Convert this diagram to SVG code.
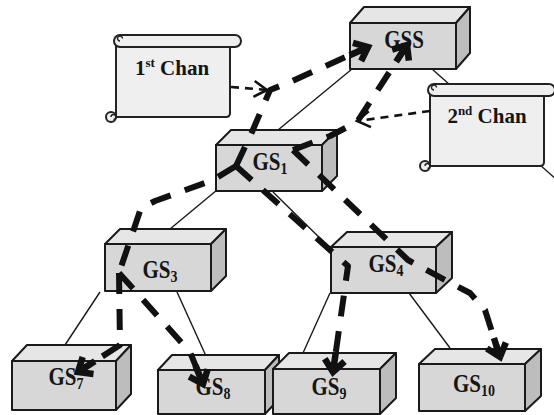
<svg xmlns="http://www.w3.org/2000/svg" width="554" height="415" viewBox="0 0 554 415">
  <style>
    .edge { stroke: #1a1a1a; stroke-width: 1.4; fill: none; }
    .route { stroke: #111; stroke-width: 6; fill: none; stroke-dasharray: 21 15; stroke-linejoin: round; }
    .ptr { stroke: #111; stroke-width: 2.6; fill: none; stroke-dasharray: 8 6; }
    .front { fill: #d7d7d7; stroke: #1a1a1a; stroke-width: 2; stroke-linejoin: round; }
    .top { fill: #e6e6e6; stroke: #1a1a1a; stroke-width: 2; stroke-linejoin: round; }
    .side { fill: #bdbdbd; stroke: #1a1a1a; stroke-width: 2; stroke-linejoin: round; }
    .paper { fill: #efefef; stroke: #222; stroke-width: 2; stroke-linejoin: round; }
    .curl { fill: none; stroke: #222; stroke-width: 1.4; }
    .lbl { font-family: "Liberation Serif", "Times New Roman", serif; font-weight: bold; font-size: 21px; fill: #151515; text-anchor: middle; }
    .sub { font-size: 14px; }
    .note { font-family: "Liberation Serif", "Times New Roman", serif; font-weight: bold; font-size: 21px; fill: #151515; text-anchor: middle; }
  </style>
  <defs>
    <marker id="thickHead" markerUnits="userSpaceOnUse" markerWidth="40" markerHeight="40" viewBox="-25 -20 40 40" refX="0" refY="0" orient="auto" overflow="visible">
      <path d="M-20,0 H0 M-12,-10 L0,0 L-12,10" stroke="#111" stroke-width="6.5" fill="none"/>
    </marker>
    <marker id="thinHead" markerUnits="userSpaceOnUse" markerWidth="30" markerHeight="30" viewBox="-20 -15 30 30" refX="0" refY="0" orient="auto" overflow="visible">
      <path d="M-13,-8 L0,0 L-13,8" stroke="#111" stroke-width="2.6" fill="none"/>
    </marker>
    <!-- paper scroll: origin at left body edge / top of the roll -->
    <g id="scroll">
      <path class="paper" d="M0,6 V82 H110 Q114,82 114,78 V12 Z"/>
      <circle class="paper" cx="-5" cy="82" r="5"/>
      <path class="curl" d="M-5,82 a2.5,2.5 0 1 1 2.5,2.5"/>
      <path class="paper" d="M4,0 H119 A6,6 0 0 1 119,12 H4 A6,6 0 0 1 4,0 Z"/>
      <path class="curl" d="M4,6 a2.5,2.5 0 1 1 2.5,-2.5"/>
    </g>
  </defs>

  <!-- hierarchy links -->
  <g id="links">
    <line class="edge" x1="278" y1="130" x2="352" y2="69"/>
    <line class="edge" x1="432" y1="69" x2="575" y2="196"/>
    <line class="edge" x1="170" y1="229" x2="217" y2="190"/>
    <line class="edge" x1="273" y1="192" x2="332" y2="250"/>
    <line class="edge" x1="100" y1="292" x2="65" y2="345"/>
    <line class="edge" x1="177" y1="292" x2="206" y2="356"/>
    <line class="edge" x1="330" y1="293" x2="303" y2="353"/>
    <line class="edge" x1="409" y1="293" x2="450" y2="348"/>
  </g>

  <!-- nodes -->
  <g id="GSS">
    <polygon class="top" points="350,23 364,7 470,7 456,23"/>
    <polygon class="side" points="456,23 470,7 470,53 456,69"/>
    <rect class="front" x="350" y="23" width="106" height="46"/>
    <text class="lbl" transform="translate(404,48) scale(1,1.18)">GSS</text>
  </g>
  <g id="GS1">
    <polygon class="top" points="216,145 231,130 337,130 322,145"/>
    <polygon class="side" points="322,145 337,130 337,176 322,191"/>
    <rect class="front" x="216" y="145" width="106" height="46"/>
    <text class="lbl" transform="translate(270,170) scale(1,1.18)">GS<tspan class="sub" dy="3">1</tspan></text>
  </g>
  <g id="GS3">
    <polygon class="top" points="105,244 120,229 226,229 211,244"/>
    <polygon class="side" points="211,244 226,229 226,276 211,291"/>
    <rect class="front" x="105" y="244" width="106" height="47"/>
    <text class="lbl" transform="translate(160,278) scale(1,1.18)">GS<tspan class="sub" dy="3">3</tspan></text>
  </g>
  <g id="GS4">
    <polygon class="top" points="331,247 347,232 452,232 436,247"/>
    <polygon class="side" points="436,247 452,232 452,278 436,293"/>
    <rect class="front" x="331" y="247" width="105" height="46"/>
    <text class="lbl" transform="translate(386,272) scale(1,1.18)">GS<tspan class="sub" dy="3">4</tspan></text>
  </g>
  <g id="GS7">
    <polygon class="top" points="12,361 27,345 131,345 116,361"/>
    <polygon class="side" points="116,361 131,345 131,394 116,410"/>
    <rect class="front" x="12" y="361" width="104" height="49"/>
    <text class="lbl" transform="translate(66,385) scale(1,1.18)">GS<tspan class="sub" dy="3">7</tspan></text>
  </g>
  <g id="GS8">
    <polygon class="top" points="158,370 172,355 279,355 265,370"/>
    <polygon class="side" points="265,370 279,355 279,399 265,414"/>
    <rect class="front" x="158" y="370" width="107" height="44"/>
    <text class="lbl" transform="translate(213,395) scale(1,1.18)">GS<tspan class="sub" dy="3">8</tspan></text>
  </g>
  <g id="GS9">
    <polygon class="top" points="273,369 289,353 396,353 380,369"/>
    <polygon class="side" points="380,369 396,353 396,398 380,414"/>
    <rect class="front" x="273" y="369" width="107" height="45"/>
    <text class="lbl" transform="translate(329,395) scale(1,1.18)">GS<tspan class="sub" dy="3">9</tspan></text>
  </g>
  <g id="GS10">
    <polygon class="top" points="419,364 435,349 541,349 525,364"/>
    <polygon class="side" points="525,364 541,349 541,396 525,411"/>
    <rect class="front" x="419" y="364" width="106" height="47"/>
    <text class="lbl" transform="translate(474,392) scale(1,1.18)">GS<tspan class="sub" dy="3">10</tspan></text>
  </g>

  <!-- channel notes -->
  <g id="chan1">
    <use href="#scroll" transform="translate(116,35)"/>
    <text class="note" x="172" y="75">1<tspan font-size="13" dy="-8">st</tspan><tspan dy="8"> Chan</tspan></text>
  </g>
  <g id="chan2">
    <use href="#scroll" transform="translate(430,84)"/>
    <text class="note" x="487" y="123">2<tspan font-size="13" dy="-8">nd</tspan><tspan dy="8"> Chan</tspan></text>
  </g>

  <!-- routing paths and channel pointers -->
  <g id="connectors">
    <path class="route" d="M236,166 L252,132 L270,90 L290,82 L368,47" marker-end="url(#thickHead)"/>
    <path class="route" d="M236,166 L213,180 L155,201 L141,208 L119,273"/>
    <path class="route" d="M119,273 L120,345 L78,372" marker-end="url(#thickHead)"/>
    <path class="route" d="M119,273 L190,352 L203,384" marker-end="url(#thickHead)"/>
    <path class="route" d="M236,166 L348,266 L333,372" marker-end="url(#thickHead)"/>
    <path class="route" d="M293,150 L330,136 L357,122 L407,45" marker-end="url(#thickHead)"/>
    <path class="route" d="M293,150 L408,260 L445,280 L470,293 L485,310 L500,357" marker-end="url(#thickHead)"/>
    <path class="ptr" d="M231,87 L267,90" marker-end="url(#thinHead)"/>
    <path class="ptr" d="M430,111 L357,121" marker-end="url(#thinHead)"/>
  </g>
</svg>
